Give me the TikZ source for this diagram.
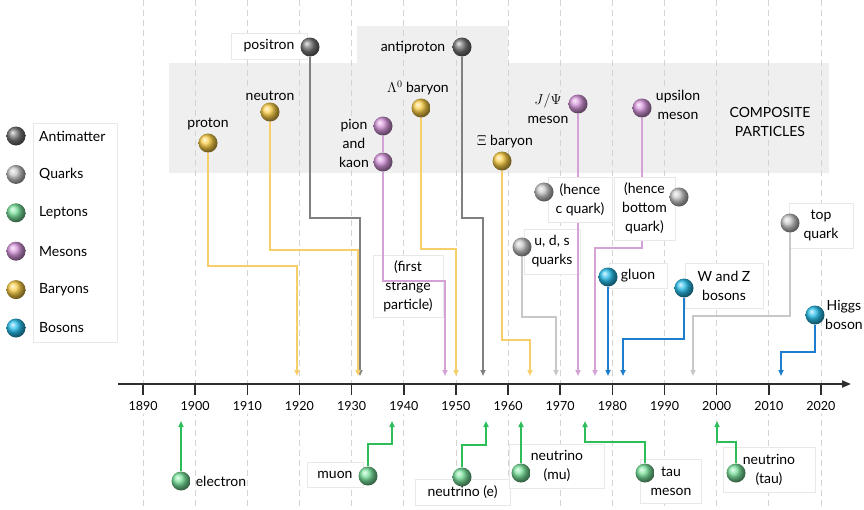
\documentclass[tikz,border=0pt]{standalone}
\usepackage{fontspec}
\setmainfont{Lato}
\usepackage{amsmath}
\usetikzlibrary{arrows.meta,positioning}
\definecolor{bandgray}{RGB}{239,239,239}
\definecolor{gridgray}{RGB}{212,212,212}
\definecolor{axisgray}{RGB}{45,45,45}
\definecolor{antidark}{RGB}{118,118,118}
\definecolor{antimid}{RGB}{128,128,128}
\definecolor{quarkmid}{RGB}{200,200,200}
\definecolor{quarklight}{RGB}{200,200,200}
\definecolor{leptongreen}{RGB}{120,225,155}
\definecolor{leptongreendeep}{RGB}{45,190,90}
\definecolor{mesonpink}{RGB}{215,150,220}
\definecolor{mesonpinklight}{RGB}{212,162,212}
\definecolor{baryongold}{RGB}{250,205,70}
\definecolor{baryongoldlight}{RGB}{248,206,106}
\definecolor{bosoncyan}{RGB}{40,190,235}
\definecolor{bosonblue}{RGB}{30,125,205}

\begin{document}
\begin{tikzpicture}[x=1pt,y=-1pt,
    font=\fontsize{14}{19}\selectfont,
    particle/.style={circle, inner sep=0pt, minimum size=19pt, shading=ball, ball color=#1},
    labelbox/.style={fill=white, draw=black!9, line width=0.6pt, align=center, inner sep=2pt},
    bandtext/.style={fill=bandgray, align=center, inner sep=1pt},
    gridrule/.style={gridgray, dash pattern=on 6pt off 4pt, line width=0.8pt},
    wire/.style={line width=1.6pt, draw=#1, -{Triangle[width=5pt,length=6pt]}}
]
\useasboundingbox (0,0) rectangle (864,509);

\fill[bandgray] (169,63) -- (357,63) -- (357,26) -- (508,26) -- (508,63)
    -- (829,63) -- (829,173) -- (169,173) -- cycle;
\foreach \i in {0,...,13}
    \draw[gridrule] ({143+52.15*\i},0) -- ({143+52.15*\i},509);

\fill[white] (122,389) rectangle (846,414);
\draw[axisgray, line width=2pt, -{Triangle[width=7pt,length=9pt]}] (118,384) -- (851,384);
\foreach \i in {0,...,13}{
    \pgfmathsetmacro\tx{143+52.15*\i}
    \pgfmathtruncatemacro\yy{1890+10*\i}
    \draw[axisgray, line width=1.5pt] (\tx,384) -- (\tx,395);
    \node[fill=white, inner sep=1pt, font=\fontsize{12.5}{15}\selectfont] (year\yy) at (\tx,406) {\yy};
}

\node[draw=black!9, fill=white, minimum width=84pt, minimum height=219pt, anchor=north west] (legend) at (33,123) {};
\foreach \name/\col [count=\k from 0] in {Antimatter/antidark, Quarks/quarkmid, Leptons/leptongreen,
        Mesons/mesonpink, Baryons/baryongold, Bosons/bosoncyan}{
    \node[particle=\col] (key\k) at (16,{136+38.4*\k}) {};
    \node[anchor=west, inner sep=0pt] (keytext\k) at (39,{136+38.4*\k}) {\name};
}

\foreach \p/\x/\y in {positron/360/376, antiproton/483/376, proton/297/376, neutron/358/376,
        kaon/445/376, lambda/456/376, xi/530/376, uds/556/376, jpsi/578/376, upsilon/595/376,
        top/693/376, gluon/608/376, wz/623/376, higgs/781/376,
        electron/181/421, muon/392/421, nue/486/421, numu/521/421, tau/585/421, nutau/717/421}
    \coordinate (\p-end) at (\x,\y);

\node[bandtext] (composite) at (770,122) {COMPOSITE\\PARTICLES};
\node[labelbox, minimum width=76, minimum height=26] (lbl-positron) at (269,46) {positron};
\node[bandtext] (lbl-antiproton) at (413,48) {antiproton};
\node[bandtext] (lbl-proton) at (208,124) {proton};
\node[bandtext] (lbl-neutron) at (270,96) {neutron};
\node[bandtext] (lbl-pionkaon) at (354,143) {pion\\and\\kaon};
\node[bandtext] (lbl-lambda) at (418,88) {$\Lambda^0$ baryon};
\node[bandtext] (lbl-xi) at (505,142) {$\Xi$ baryon};
\node[bandtext] (lbl-jpsi) at (548,109) {$J/\Psi$\\meson};
\node[bandtext] (lbl-upsilon) at (678,105) {upsilon\\meson};
\node[labelbox, minimum width=56, minimum height=45] (lbl-uds) at (552,251.5) {u, d, s\\quarks};
\node[labelbox, minimum width=70, minimum height=62] (lbl-strange) at (408,286) {(first\\strange\\particle)};
\node[labelbox, minimum width=58, minimum height=25] (lbl-gluon) at (638,275.5) {gluon};
\node[labelbox, minimum width=78, minimum height=45] (lbl-wz) at (724,285.5) {W and Z\\bosons};
\node[labelbox, minimum width=64, minimum height=45] (lbl-top) at (821,225.5) {top\\quark};
\node[align=center] (lbl-higgs) at (844,315) {Higgs\\boson};
\node (lbl-electron) at (221,481) {electron};
\node[labelbox, minimum width=56, minimum height=25] (lbl-muon) at (335,474.5) {muon};
\node[labelbox, minimum width=95, minimum height=26] (lbl-nue) at (462.5,492) {neutrino (e)};
\node[labelbox, minimum width=95, minimum height=44] (lbl-numu) at (557,466) {neutrino\\(mu)};
\node[labelbox, minimum width=61, minimum height=44] (lbl-tau) at (671,481) {tau\\meson};
\node[labelbox, minimum width=92, minimum height=45] (lbl-nutau) at (769,469.5) {neutrino\\(tau)};

\node[particle=antidark] (positron) at (310,47) {};
\node[particle=antidark] (antiproton) at (462,47) {};
\node[particle=baryongold] (proton) at (208,143) {};
\node[particle=baryongold] (neutron) at (270,112) {};
\node[particle=mesonpink] (pion) at (383,126) {};
\node[particle=mesonpink] (kaon) at (383,162) {};
\node[particle=baryongold] (lambda) at (421,108) {};
\node[particle=baryongold] (xi) at (502,161) {};
\node[particle=mesonpink] (jpsi) at (578,104) {};
\node[particle=mesonpink] (upsilon) at (642,108) {};
\node[particle=quarkmid] (uds) at (522,247) {};
\node[particle=quarkmid] (top) at (790,223) {};
\node[particle=bosoncyan] (gluon) at (608,277) {};
\node[particle=bosoncyan] (wz) at (684,288) {};
\node[particle=bosoncyan] (higgs) at (815,315) {};
\node[particle=leptongreen] (electron) at (181,481) {};
\node[particle=leptongreen] (muon) at (368,476) {};
\node[particle=leptongreen] (nue) at (462,477) {};
\node[particle=leptongreen] (numu) at (521,473) {};
\node[particle=leptongreen] (tau) at (645,473) {};
\node[particle=leptongreen] (nutau) at (736,473) {};

\draw[wire=antimid] (positron.south) |- (positron-end |- 0,218) -- (positron-end);
\draw[wire=antimid] (antiproton.south) |- (antiproton-end |- 0,218) -- (antiproton-end);
\draw[wire=baryongoldlight] (proton.south) |- (proton-end |- 0,266) -- (proton-end);
\draw[wire=baryongoldlight] (neutron.south) |- (neutron-end |- 0,250) -- (neutron-end);
\draw[wire=mesonpinklight, -] (pion.south) -- (kaon.north);
\draw[wire=mesonpinklight] (kaon.south) |- (kaon-end |- 0,281) -- (kaon-end);
\draw[wire=baryongoldlight] (lambda.south) |- (lambda-end |- 0,249) -- (lambda-end);
\draw[wire=baryongoldlight] (xi.south) |- (xi-end |- 0,340) -- (xi-end);
\draw[wire=quarklight] (uds.south) |- (uds-end |- 0,317) -- (uds-end);
\draw[wire=mesonpinklight] (jpsi.south) -- (jpsi-end);
\draw[wire=mesonpinklight] (upsilon.south) |- (upsilon-end |- 0,248) -- (upsilon-end);
\draw[wire=quarklight] (top.south) |- (top-end |- 0,316) -- (top-end);
\draw[wire=bosonblue] (gluon.south) -- (gluon-end);
\draw[wire=bosonblue] (wz.south) |- (wz-end |- 0,339) -- (wz-end);
\draw[wire=bosonblue] (higgs.south) |- (higgs-end |- 0,352) -- (higgs-end);
\draw[wire=leptongreendeep] (electron.north) -- (electron-end);
\draw[wire=leptongreendeep] (muon.north) |- (muon-end |- 0,444) -- (muon-end);
\draw[wire=leptongreendeep] (nue.north) |- (nue-end |- 0,445) -- (nue-end);
\draw[wire=leptongreendeep] (numu.north) -- (numu-end);
\draw[wire=leptongreendeep] (tau.north) |- (tau-end |- 0,442) -- (tau-end);
\draw[wire=leptongreendeep] (nutau.north) |- (nutau-end |- 0,442) -- (nutau-end);

\node[labelbox, minimum width=64, minimum height=45] (lbl-cquark) at (580,199.5) {(hence\\c quark)};
\node[labelbox, minimum width=61, minimum height=63] (lbl-bquark) at (644.5,208.5) {(hence\\bottom\\quark)};
\node[particle=quarkmid] (cquark) at (544,192) {};
\node[particle=quarkmid] (bquark) at (679,197) {};
\end{tikzpicture}
\end{document}
